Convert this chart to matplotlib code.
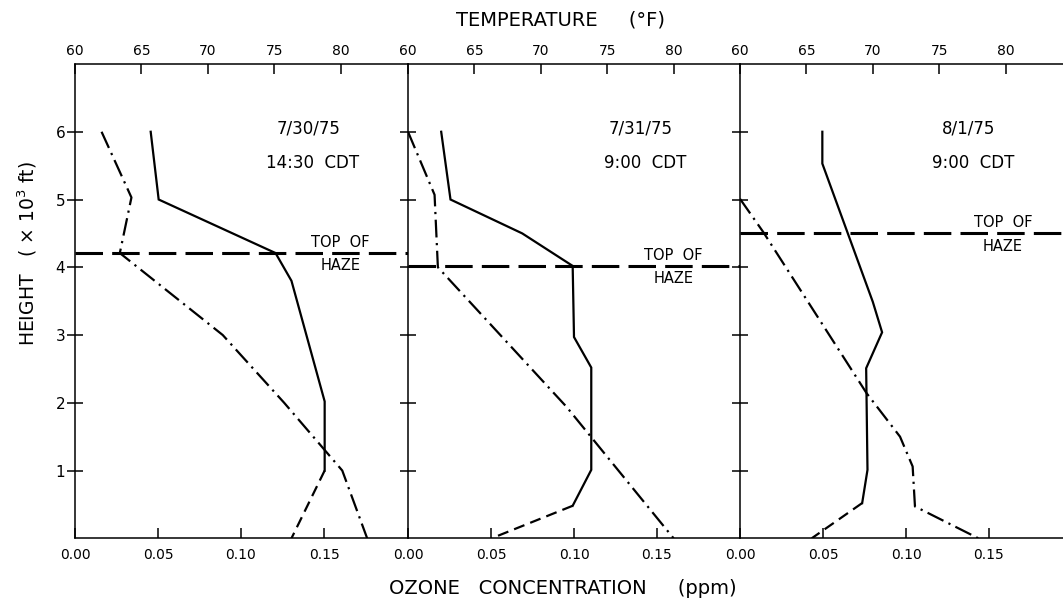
import matplotlib
matplotlib.use("Agg")
import matplotlib.pyplot as plt
import matplotlib.transforms as mtransforms

# tick values
height_ticks = [1, 2, 3, 4, 5, 6]
temp_ticks = [60, 65, 70, 75, 80]
ozone_ticks = [0.00, 0.05, 0.10, 0.15]
ozone_labels = ["0.00", "0.05", "0.10", "0.15"]

dates = ["7/30/75", "7/31/75", "8/1/75"]
times = ["14:30  CDT", "9:00  CDT", "9:00  CDT"]

# 7/30/75 14:30 CDT
temp1_h = [6.0, 5.0, 4.21, 3.8, 2.02, 1.0]
temp1_f = [65.7, 66.3, 75.1, 76.3, 78.8, 78.8]
sfc1_h = [1.0, 0.0]
sfc1_f = [78.8, 76.3]
ozone1_h = [6.0, 5.03, 4.21, 3.0, 2.0, 1.0, 0.0]
ozone1_c = [0.016, 0.034, 0.027, 0.089, 0.126, 0.161, 0.176]
haze1 = 4.21

# 7/31/75 9:00 CDT
temp2_h = [6.0, 5.0, 4.5, 4.02, 2.97, 2.52, 1.01, 0.48]
temp2_f = [62.5, 63.2, 68.6, 72.4, 72.5, 73.8, 73.8, 72.4]
sfc2_h = [0.48, 0.0]
sfc2_f = [72.4, 66.3]
ozone2_h = [6.0, 5.07, 4.0, 1.94, 0.0]
ozone2_c = [0.0, 0.016, 0.018, 0.0955, 0.160]
haze2 = 4.02

# 8/1/75 9:00 CDT
temp3_h = [6.0, 5.53, 3.49, 3.04, 2.51, 1.01, 0.52]
temp3_f = [66.2, 66.2, 70.0, 70.7, 69.5, 69.6, 69.2]
sfc3_h = [0.52, 0.0]
sfc3_f = [69.2, 65.4]
ozone3_h = [5.01, 4.52, 2.14, 1.5, 1.06, 0.47, 0.0]
ozone3_c = [0.0, 0.014, 0.0763, 0.0964, 0.104, 0.1054, 0.1436]
haze3 = 4.50

panels = [
    (temp1_h, temp1_f, sfc1_h, sfc1_f, ozone1_h, ozone1_c, haze1),
    (temp2_h, temp2_f, sfc2_h, sfc2_f, ozone2_h, ozone2_c, haze2),
    (temp3_h, temp3_f, sfc3_h, sfc3_f, ozone3_h, ozone3_c, haze3),
]

W, H = 1063, 602
fig = plt.figure(figsize=(W / 100, H / 100), dpi=100)

# pixel boxes of the three panels (left, width)
boxes = [(75, 333), (408, 332), (740, 323)]
bottom_px, top_px = 538.3, 64
px_per_unit = 332.0  # pixels for 0.2 ppm / 25 F

for i, (th, tf, sh, sf, oh, oc, haze) in enumerate(panels):
    left, width = boxes[i]
    ax = fig.add_axes([left / W, 1 - bottom_px / H, width / W, (bottom_px - top_px) / H])
    frac = width / px_per_unit
    ax.set_xlim(0, 0.2 * frac)
    ax.set_ylim(0, 7)
    ax.patch.set_alpha(0)

    axt = ax.twiny()
    axt.set_xlim(60, 60 + 25 * frac)

    # temperature (top axis)
    axt.plot(tf, th, color="k", lw=1.6, solid_joinstyle="miter")
    axt.plot(sf, sh, color="k", lw=1.6, linestyle=(0, (5, 2.8)))
    # ozone (bottom axis)
    ax.plot(oc, oh, color="k", lw=1.6, linestyle=(0, (8, 2.5, 1, 2.5)))
    ax.axhline(haze, color="k", lw=2.2, linestyle=(0, (9, 3)))

    tr = mtransforms.blended_transform_factory(ax.transAxes, ax.transData)
    lx = 0.80 * px_per_unit / width if i < 2 else 0.814
    ax.text(lx, haze + 0.16, "TOP  OF", transform=tr, ha="center", va="center", fontsize=10.5)
    ax.text(lx, haze - 0.19, "HAZE", transform=tr, ha="center", va="center", fontsize=10.5)

    dx = [0.1408, 0.140, 0.1375][i]
    tx = [0.1434, 0.143, 0.1407][i]
    ax.text(dx, 6.05, dates[i], ha="center", va="center", fontsize=12)
    ax.text(tx, 5.54, times[i], ha="center", va="center", fontsize=12)

    for a in (ax, axt):
        a.spines["right"].set_visible(False)
    ax.spines["top"].set_visible(False)
    axt.spines["bottom"].set_visible(False)
    axt.spines["left"].set_visible(False)
    ax.spines["left"].set_linewidth(1.1)
    ax.spines["bottom"].set_linewidth(1.1)
    axt.spines["top"].set_linewidth(1.1)

    ax.set_xticks(ozone_ticks)
    ax.set_xticklabels(ozone_labels)
    ax.tick_params(axis="x", direction="in", length=7, width=1.1, labelsize=10, pad=7)
    ax.set_yticks(height_ticks)
    ax.tick_params(axis="y", direction="inout", length=12, width=1.1, labelsize=11,
                   pad=1, labelleft=(i == 0))
    axt.set_xticks(temp_ticks)
    axt.tick_params(axis="x", direction="in", length=7, width=1.1, labelsize=10, pad=4)

fig.text(561 / W, 1 - 20 / H, "TEMPERATURE     (°F)", ha="center", va="center", fontsize=14)
fig.text(563 / W, 1 - 589 / H, "OZONE   CONCENTRATION     (ppm)", ha="center", va="center",
         fontsize=14)
fig.text(27.5 / W, 1 - 253.5 / H, "HEIGHT   ( × 10$^3$ ft)", rotation=90,
         ha="center", va="center", fontsize=13.5)

fig.savefig("out.png", dpi=100)
